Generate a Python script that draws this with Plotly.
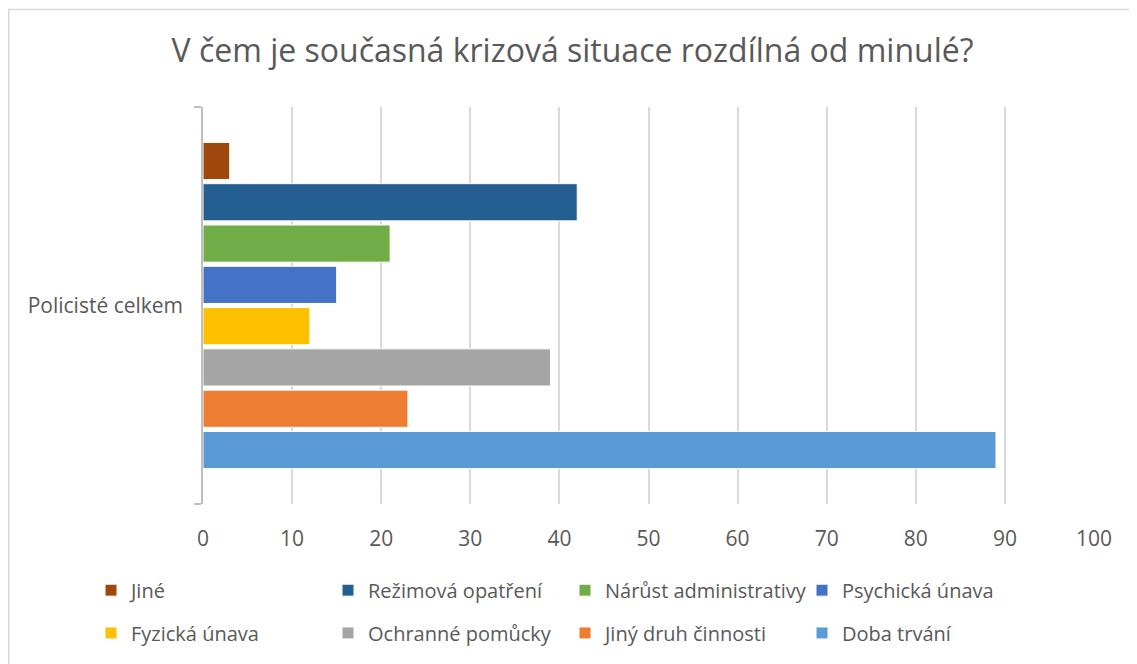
import plotly.graph_objects as go

category = ["Policisté celkem"]
series_names = ["Doba trvání", "Jiný druh činnosti", "Ochranné pomůcky", "Fyzická únava",
                "Psychická únava", "Nárůst administrativy", "Režimová opatření", "Jiné"]
series_values = [89, 23, 39, 12, 15, 21, 42, 3]
series_colors = ["#5B9BD5", "#ED7D31", "#A5A5A5", "#FFC000",
                 "#4472C4", "#70AD47", "#255E91", "#9E480E"]
legend_row = ["legend2", "legend2", "legend2", "legend2",
              "legend", "legend", "legend", "legend"]
x_ticks = [0, 10, 20, 30, 40, 50, 60, 70, 80, 90, 100]

OFF = 8  # default page body margin
PAGE_W, PAGE_H = 1137, 664
W, H = PAGE_W - OFF, PAGE_H - OFF
# plot area in page coordinates
PL, PR, PT, PB = 203, 1094, 107, 506
ML, MR, MT, MB = PL - OFF, W - (PR - OFF), PT - OFF, H - (PB - OFF)
TXT = "#595959"
FONT = "Open Sans"

fig = go.Figure()
for name, val, col, lg in zip(series_names, series_values, series_colors, legend_row):
    fig.add_trace(go.Bar(
        y=category, x=[val], name=name, orientation="h", legend=lg,
        marker=dict(color=col, line=dict(color="white", width=1)),
    ))

pw, ph = W - ML - MR, H - MT - MB
def px_x(p):
    return (p - OFF - ML) / pw
def px_y(p):
    return (H - MB - (p - OFF)) / ph

leg_common = dict(orientation="h", traceorder="reversed", xanchor="left",
                  yanchor="top", entrywidth=192, itemwidth=30,
                  font=dict(family=FONT, size=20, color=TXT))

fig.update_layout(
    width=W, height=H,
    margin=dict(l=ML, r=MR, t=MT, b=MB),
    paper_bgcolor="white", plot_bgcolor="white",
    barmode="group", bargap=0.168, bargroupgap=0.1,
    font=dict(family=FONT, color=TXT),
    title=dict(text="V čem je současná krizová situace rozdílná od minulé?",
               x=0.5, xref="container", xanchor="center",
               y=1 - (51 - OFF) / H, yref="container", yanchor="middle",
               font=dict(family=FONT, size=32, color=TXT)),
    xaxis=dict(range=[0, 100], tickvals=x_ticks, showgrid=True,
               gridcolor="#D9D9D9", gridwidth=1.5, zeroline=False,
               showline=False, ticks="", tickfont=dict(size=21, color=TXT),
               ticklabelstandoff=20),
    yaxis=dict(showline=True, linecolor="#BFBFBF", linewidth=1.5,
               ticks="outside", tickson="boundaries", ticklen=7,
               tickcolor="#BFBFBF", tickwidth=1.5,
               tickfont=dict(size=21, color=TXT), ticklabelstandoff=14,
               showgrid=False),
    legend=dict(x=px_x(91), y=px_y(573), **leg_common),
    legend2=dict(x=px_x(91), y=px_y(616), **leg_common),
    shapes=[dict(type="rect", xref="paper", yref="paper",
                 x0=px_x(OFF + 0.75), x1=px_x(PAGE_W + 30),
                 y0=px_y(PAGE_H + 30), y1=px_y(OFF + 1),
                 line=dict(color="#D9D9D9", width=1.5), layer="below")],
)

fig.write_html("out.html")
